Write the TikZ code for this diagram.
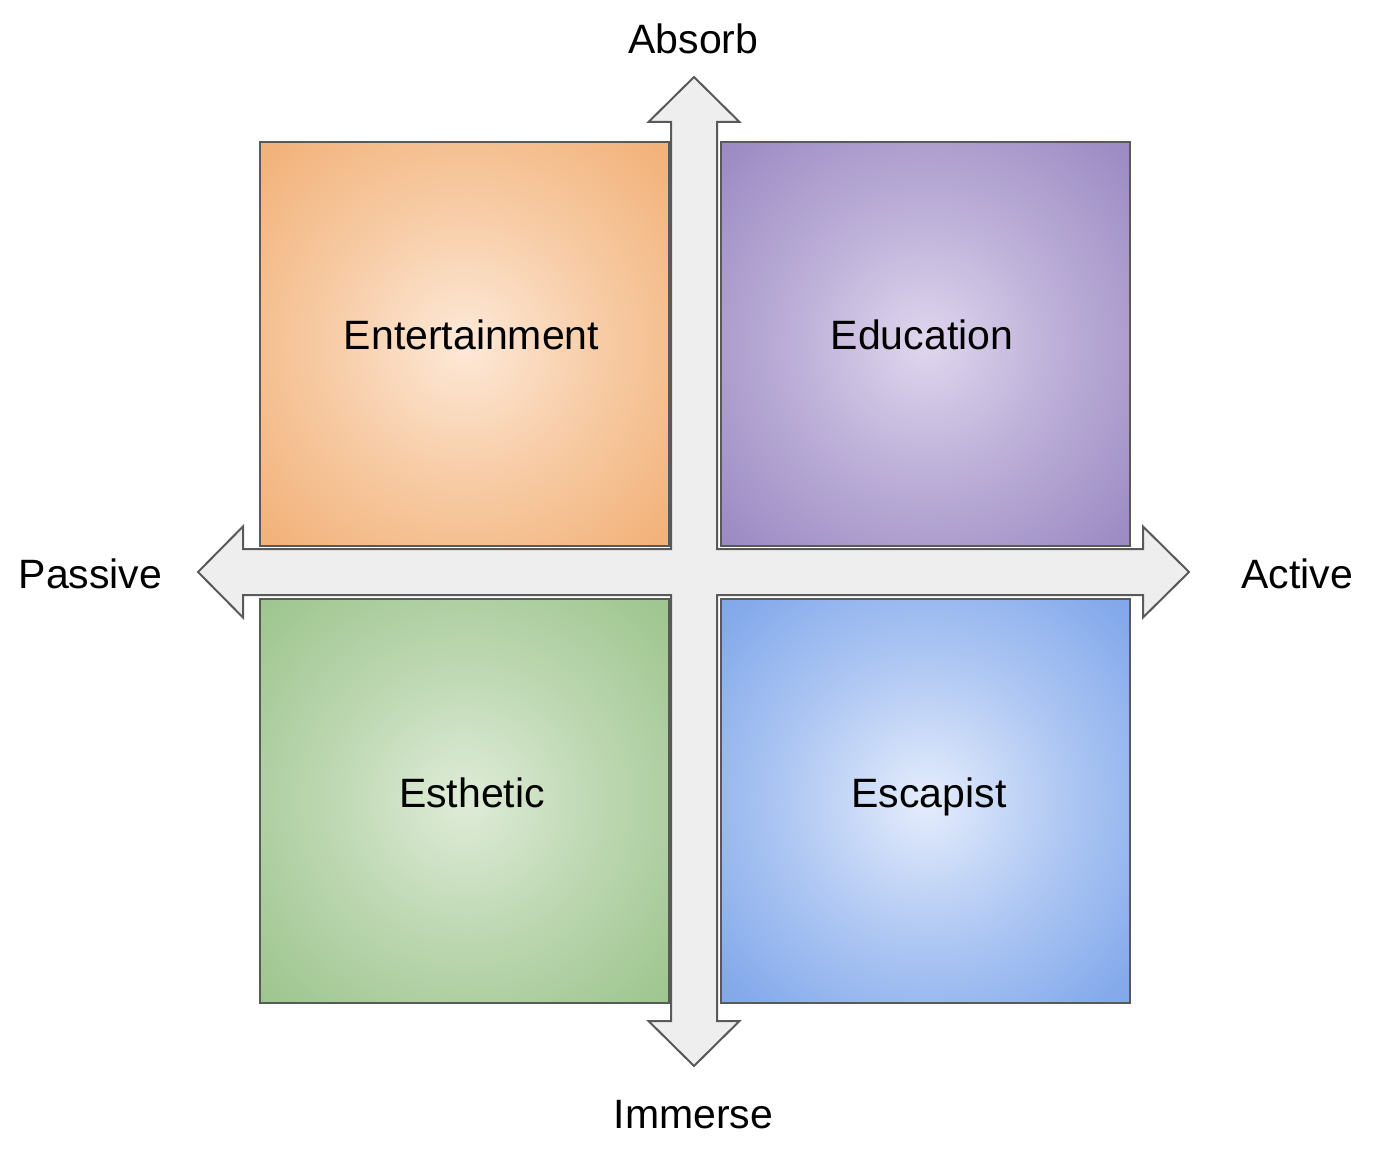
\documentclass[tikz,border=0pt]{standalone}
\usepackage{fontspec}
\setmainfont{Liberation Sans}
\definecolor{orgE}{HTML}{F0A766}
\definecolor{orgC}{HTML}{FDE9D8}
\definecolor{purE}{HTML}{8E7CBB}
\definecolor{purC}{HTML}{E0D6EE}
\definecolor{grnE}{HTML}{92BE81}
\definecolor{grnC}{HTML}{DFECD8}
\definecolor{bluE}{HTML}{6D9AE8}
\definecolor{bluC}{HTML}{E5EDFC}
\definecolor{arrF}{HTML}{EEEEEE}
\definecolor{lineG}{HTML}{595959}
\pgfdeclareradialshading{entsh}{\pgfpoint{0bp}{0bp}}{color(0bp)=(orgC); color(12bp)=(orgE!45!orgC); color(23bp)=(orgE!80!orgC); color(33bp)=(orgE); color(50bp)=(orgE)}
\pgfdeclareradialshading{edush}{\pgfpoint{0bp}{0bp}}{color(0bp)=(purC); color(12bp)=(purE!45!purC); color(23bp)=(purE!80!purC); color(33bp)=(purE); color(50bp)=(purE)}
\pgfdeclareradialshading{estsh}{\pgfpoint{0bp}{0bp}}{color(0bp)=(grnC); color(12bp)=(grnE!45!grnC); color(23bp)=(grnE!80!grnC); color(33bp)=(grnE); color(50bp)=(grnE)}
\pgfdeclareradialshading{escsh}{\pgfpoint{0bp}{0bp}}{color(0bp)=(bluC); color(12bp)=(bluE!45!bluC); color(23bp)=(bluE!80!bluC); color(33bp)=(bluE); color(50bp)=(bluE)}
\begin{document}
\begin{tikzpicture}[x=1pt,y=-1pt,
  quad/.style={draw=lineG, line width=2pt, rectangle, inner sep=0pt,
    minimum width=409pt, minimum height=404pt, anchor=north west,
    path picture={\shade[shading=#1] (path picture bounding box.center) circle (288pt);}},
  lbl/.style={inner sep=0pt, anchor=base, font=\fontsize{41}{48}\selectfont, text=black},
  crossarrow/.style={draw=lineG, fill=arrF, line width=2pt, line join=miter}]
\useasboundingbox (0,0) rectangle (1374,1150);
% cross of double arrows
\draw[crossarrow] (694,77) -- (739.5,122) -- (717,122) -- (717,549) -- (1143,549)
  -- (1143,526.5) -- (1189,572) -- (1143,617.5) -- (1143,595) -- (717,595)
  -- (717,1021) -- (739.5,1021) -- (694,1066) -- (648.5,1021) -- (671,1021)
  -- (671,595) -- (243,595) -- (243,617.5) -- (198,572) -- (243,526.5)
  -- (243,549) -- (671,549) -- (671,122) -- (648.5,122) -- cycle;
% quadrants
\node[quad=entsh] (ent) at (259,141) {};
\node[quad=edush] (edu) at (720,141) {};
\node[quad=estsh] (est) at (259,598) {};
\node[quad=escsh] (esc) at (720,598) {};
% labels
\node[lbl] (tEnt) at (471.5,350) {Entertainment};
\node[lbl] (tEdu) at (922,350) {Education};
\node[lbl] (tEst) at (472,807) {Esthetic};
\node[lbl] (tEsc) at (929,807) {Escapist};
\node[lbl] (tAbs) at (693.5,54) {Absorb};
\node[lbl] (tImm) at (693.5,1128) {Immerse};
\node[lbl] (tPas) at (90.5,588) {Passive};
\node[lbl] (tAct) at (1297,588) {Active};
\end{tikzpicture}
\end{document}
